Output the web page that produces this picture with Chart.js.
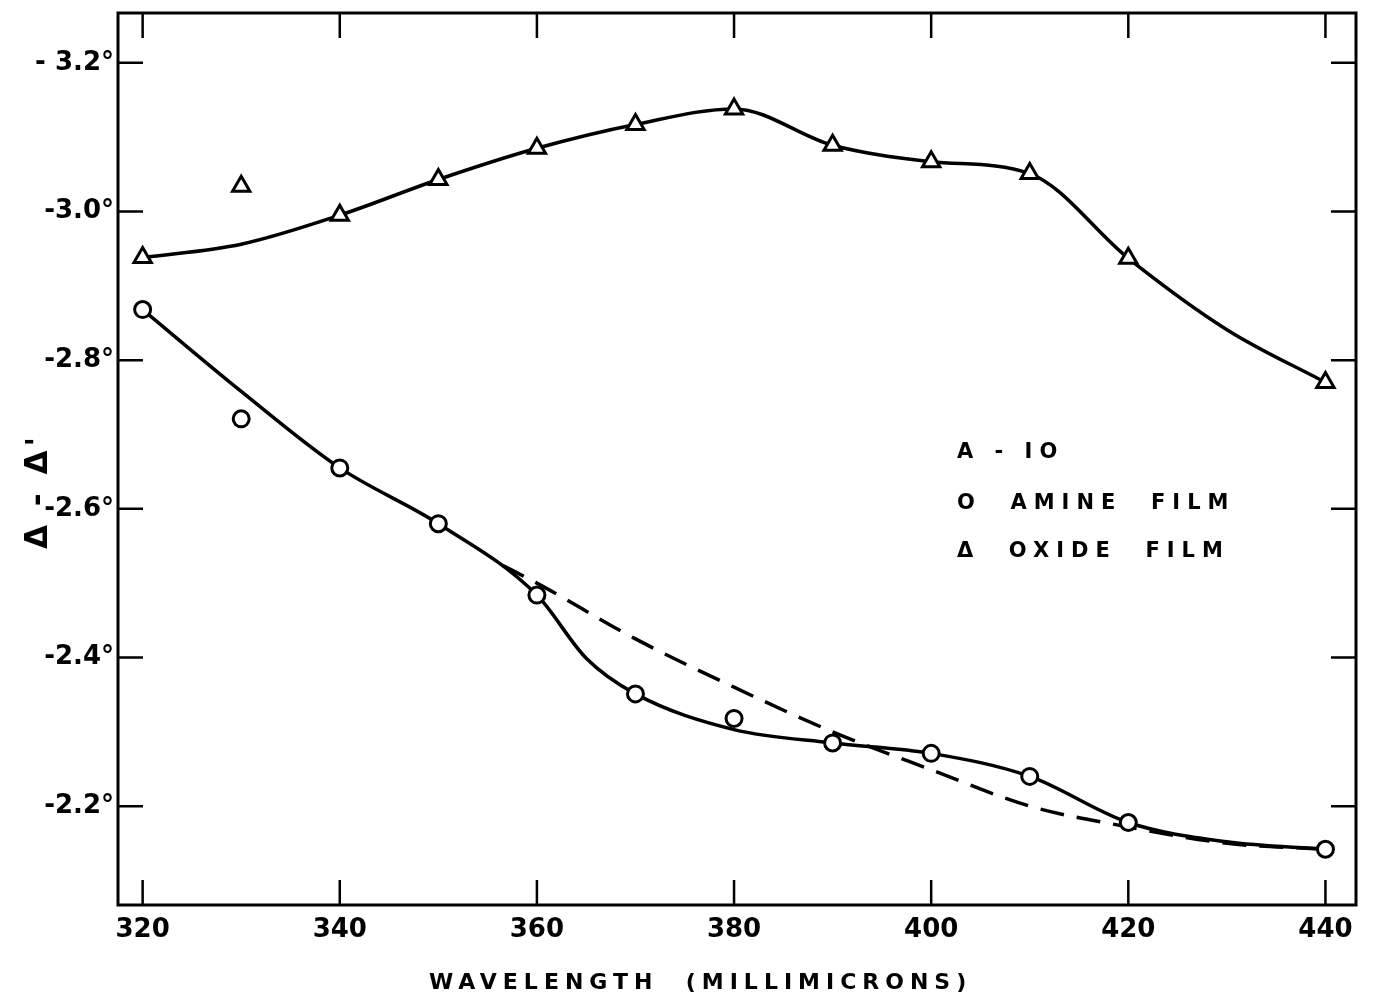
<!DOCTYPE html>
<html>
<head>
<meta charset="utf-8">
<script src="https://cdn.jsdelivr.net/npm/chart.js@4.4.1/dist/chart.umd.min.js"></script>
<style>
  html, body { margin: 0; padding: 0; background: #fff; }
  #wrap { position: relative; width: 1375px; height: 1002px; }
  #chart { position: absolute; left: 0; top: 0; }
  .txt { position: absolute; font-family: "DejaVu Sans", sans-serif; font-weight: bold; color: #000; white-space: pre; }
  .leg { font-size: 21px; letter-spacing: 7px; }
</style>
</head>
<body>
<div id="wrap">
  <canvas id="chart" width="1375" height="1002"></canvas>
  <div class="txt leg" style="left:957px; top:439px;">A - IO</div>
  <div class="txt leg" style="left:957px; top:490px;">O  AMINE  FILM</div>
  <div class="txt leg" style="left:957px; top:538px;">Δ  OXIDE  FILM</div>
  <div class="txt" style="left:429px; top:969px; font-size:22px; letter-spacing:6px;">WAVELENGTH  (MILLIMICRONS)</div>
  <div class="txt" style="left:36px; top:491px; font-size:31px; letter-spacing:4px; transform: translate(-50%,-50%) rotate(-90deg);">Δ - Δ'</div>
</div>
<script>
// measured points
const wavelengths = [320, 330, 340, 350, 360, 370, 380, 390, 400, 410, 420, 440];
const oxideFilm = [-2.938, -3.034, -2.995, -3.043, -3.085, -3.117, -3.138, -3.089, -3.067, -3.051, -2.937, -2.770];
const amineFilm = [-2.868, -2.721, -2.655, -2.580, -2.484, -2.351, -2.318, -2.285, -2.271, -2.240, -2.178, -2.142];

// smooth curves drawn through the points
const oxideCurveX = [320, 330, 340, 350, 360, 370, 380, 390, 400, 410, 420, 430, 440];
const oxideCurveY = [-2.938, -2.956, -2.995, -3.043, -3.085, -3.117, -3.138, -3.089, -3.067, -3.051, -2.937, -2.841, -2.770];
const amineCurveX = [320, 330, 340, 350, 360, 365, 370, 380, 390, 400, 410, 420, 430, 440];
const amineCurveY = [-2.868, -2.758, -2.655, -2.580, -2.484, -2.399, -2.351, -2.303, -2.285, -2.271, -2.240, -2.178, -2.152, -2.142];
const dashedX = [356.5, 360, 370, 380, 390, 400, 410, 420, 430, 440];
const dashedY = [-2.524, -2.500, -2.425, -2.360, -2.300, -2.249, -2.200, -2.172, -2.150, -2.142];

const xTicks = [320, 340, 360, 380, 400, 420, 440];
const yTicks = [-3.2, -3.0, -2.8, -2.6, -2.4, -2.2];
const yTickLabels = ['- 3.2°', '-3.0°', '-2.8°', '-2.6°', '-2.4°', '-2.2°'];

const pts = (xs, ys) => xs.map((x, i) => ({ x: x, y: ys[i] }));

// frame and inward ticks on all four sides
const frame = {
  id: 'frame',
  afterDatasetsDraw(chart) {
    const { ctx, chartArea: a, scales } = chart;
    ctx.save();
    ctx.strokeStyle = '#000';
    ctx.lineWidth = 3;
    ctx.strokeRect(a.left, a.top, a.right - a.left, a.bottom - a.top);
    ctx.lineWidth = 2.5;
    const len = 25;
    ctx.beginPath();
    xTicks.forEach(v => {
      const x = scales.x.getPixelForValue(v);
      ctx.moveTo(x, a.bottom); ctx.lineTo(x, a.bottom - len);
      ctx.moveTo(x, a.top); ctx.lineTo(x, a.top + len);
    });
    yTicks.forEach(v => {
      const y = scales.y.getPixelForValue(v);
      ctx.moveTo(a.left, y); ctx.lineTo(a.left + len, y);
      ctx.moveTo(a.right, y); ctx.lineTo(a.right - len, y);
    });
    ctx.stroke();
    ctx.restore();
  }
};

const curve = (data, dash) => ({
  type: 'line',
  data: data,
  borderColor: '#000',
  borderWidth: 3.5,
  borderDash: dash || [],
  pointRadius: 0,
  cubicInterpolationMode: 'monotone',
  fill: false,
  order: 2
});

const tickFont = { family: 'DejaVu Sans', size: 26, weight: 'bold' };

new Chart(document.getElementById('chart'), {
  type: 'scatter',
  data: {
    datasets: [
      {
        label: 'OXIDE FILM',
        data: pts(wavelengths, oxideFilm),
        pointStyle: 'triangle',
        pointRadius: 10,
        pointBorderWidth: 3,
        pointBackgroundColor: '#fff',
        pointBorderColor: '#000',
        order: 0
      },
      {
        label: 'AMINE FILM',
        data: pts(wavelengths, amineFilm),
        pointStyle: 'circle',
        pointRadius: 8,
        pointBorderWidth: 3,
        pointBackgroundColor: '#fff',
        pointBorderColor: '#000',
        order: 0
      },
      curve(pts(oxideCurveX, oxideCurveY)),
      curve(pts(amineCurveX, amineCurveY)),
      curve(pts(dashedX, dashedY), [24, 13])
    ]
  },
  options: {
    responsive: false,
    animation: false,
    layout: { padding: { left: 0, top: 13, right: 19, bottom: 0 } },
    plugins: { legend: { display: false }, tooltip: { enabled: false } },
    scales: {
      x: {
        type: 'linear',
        min: 317.5,
        max: 443.1,
        afterBuildTicks: s => { s.ticks = xTicks.map(v => ({ value: v })); },
        afterFit: s => { s.height = 97; s.paddingLeft = 0; s.paddingRight = 0; },
        grid: { display: false, drawTicks: false },
        border: { display: false },
        ticks: { color: '#000', padding: 10, font: tickFont }
      },
      y: {
        type: 'linear',
        reverse: true,
        min: -3.267,
        max: -2.067,
        afterBuildTicks: s => { s.ticks = yTicks.map(v => ({ value: v })); },
        afterFit: s => { s.width = 118; s.paddingTop = 0; s.paddingBottom = 0; },
        grid: { display: false, drawTicks: false },
        border: { display: false },
        ticks: {
          color: '#000',
          padding: 4,
          font: tickFont,
          callback: (v) => yTickLabels[yTicks.findIndex(t => Math.abs(t - v) < 1e-6)]
        }
      }
    }
  },
  plugins: [frame]
});
</script>
</body>
</html>
